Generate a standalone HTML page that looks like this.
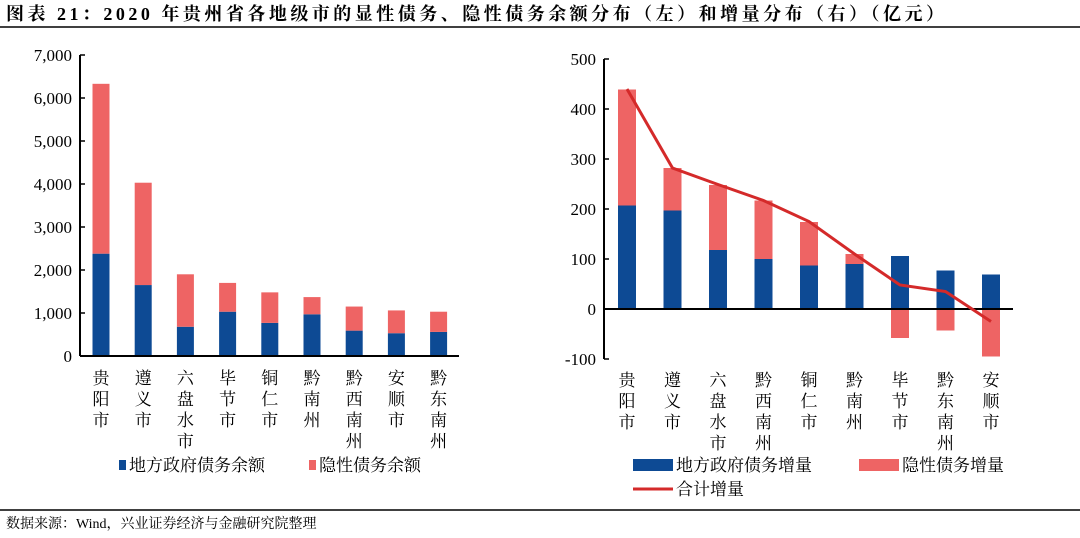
<!DOCTYPE html>
<html><head><meta charset="utf-8"><style>
body{margin:0;background:#fff;width:1080px;height:533px;overflow:hidden;font-family:"Liberation Serif","Noto Serif CJK SC",serif;}
svg text{font-family:"Liberation Serif","Noto Serif CJK SC",serif;}
</style></head><body>
<svg id="s" width="1080" height="533">
<text x="6" y="20" font-size="18" font-weight="bold" fill="#000" textLength="938" lengthAdjust="spacing">图表 21：2020 年贵州省各地级市的显性债务、隐性债务余额分布（左）和增量分布（右）（亿元）</text>
<line x1="0" y1="27" x2="1080" y2="27" stroke="#000" stroke-width="1.5"/>
<line x1="0" y1="510" x2="1080" y2="510" stroke="#000" stroke-width="1.5"/>
<text x="6" y="528" font-size="14" fill="#000">数据来源：Wind，兴业证券经济与金融研究院整理</text>
<g id="L"></g><g id="R"></g>
</svg>
<script>
const leftCats=["贵阳市","遵义市","六盘水市","毕节市","铜仁市","黔南州","黔西南州","安顺市","黔东南州"];
const leftExplicit=[2380,1650,680,1030,770,970,590,530,560];
const leftImplicit=[3950,2380,1220,670,710,400,560,530,470];
const leftTicks=[0,1000,2000,3000,4000,5000,6000,7000];
const rightCats=["贵阳市","遵义市","六盘水市","黔西南州","铜仁市","黔南州","毕节市","黔东南州","安顺市"];
const rightExplicit=[207,197,118,100,87,90,106,77,69];
const rightImplicit=[232,85,130,117,87,20,-58,-43,-95];
const rightTotal=[440,282,249,217,175,110,48,35,-25];
const rightTicks=[-100,0,100,200,300,400,500];
const NS="http://www.w3.org/2000/svg";
const BLUE="#0d4a94",RED="#ee6464",LINE="#d42a2a";
function mk(p,t,a,txt){const e=document.createElementNS(NS,t);for(const k in a)e.setAttribute(k,a[k]);if(txt!=null)e.textContent=txt;p.appendChild(e);return e;}
function fmt(v){return v.toLocaleString("en-US");}
function chart(g,o){
 const y=v=>o.y0-(v-o.vmin)/(o.vmax-o.vmin)*(o.y0-o.y1);
 const x=i=>o.x0+o.first+i*o.step;
 o.ticks.forEach(t=>{
  const tl=mk(g,"text",{x:o.x0-8,y:y(t)+6,"font-size":17,"text-anchor":"end"},fmt(t));
  
  
  mk(g,"line",{x1:o.x0,x2:o.x0+5,y1:y(t),y2:y(t),stroke:"#000","stroke-width":1.5});
 });
 o.cats.forEach((c,i)=>{
  const cx=x(i);
  let pos=0,neg=0;
  [[o.a[i],BLUE],[o.b[i],RED]].forEach(([v,col],k)=>{
   let top,bot;
   if(v>=0){bot=pos;top=pos+v;pos=top;}else{top=neg;bot=neg+v;neg=bot;}
   const r=mk(g,"rect",{x:cx-o.bw/2,y:y(top),width:o.bw,height:Math.max(0,y(bot)-y(top)),fill:col});
   
   
  });
  [...c].forEach((ch,j)=>{
   const t=mk(g,"text",{x:cx,y:o.ly+j*21,"font-size":17,"text-anchor":"middle"},ch);
   
   
  });
 });
 mk(g,"line",{x1:o.x0,x2:o.x0,y1:y(o.vmax),y2:y(o.vmin),stroke:"#000","stroke-width":2});
 mk(g,"line",{x1:o.x0,x2:o.xe,y1:y(0),y2:y(0),stroke:"#000","stroke-width":2});
 if(o.line){
  const pts=o.line.map((v,i)=>x(i)+","+y(v)).join(" ");
  const pl=mk(g,"polyline",{points:pts,fill:"none",stroke:LINE,"stroke-width":3});
  
  
 }
}
chart(document.getElementById("L"),{cats:leftCats,a:leftExplicit,b:leftImplicit,ticks:leftTicks,vmin:0,vmax:7000,y0:356,y1:55,x0:80,xe:459,first:21,step:42.2,bw:17,ly:384});
chart(document.getElementById("R"),{cats:rightCats,a:rightExplicit,b:rightImplicit,ticks:rightTicks,vmin:-100,vmax:500,y0:359,y1:59,x0:604,xe:1013,first:23,step:45.5,bw:18,ly:386,line:rightTotal});
const s=document.getElementById("s");
function leg(x,y,w,h,col,txt,name){
 const r=mk(s,"rect",{x:x,y:y-h/2,width:w,height:h,fill:col});
 
 
 const t=mk(s,"text",{x:x+w+3,y:y+6,"font-size":17},txt);
 
 
}
leg(119,465,7,10,BLUE,"地方政府债务余额","legend-left-explicit");
leg(309,465,7,10,RED,"隐性债务余额","legend-left-implicit");
leg(633,465,40,12,BLUE,"地方政府债务增量","legend-right-explicit");
leg(859,465,40,12,RED,"隐性债务增量","legend-right-implicit");
leg(633,489,40,3,LINE,"合计增量","legend-right-total");
</script>
</body></html>
